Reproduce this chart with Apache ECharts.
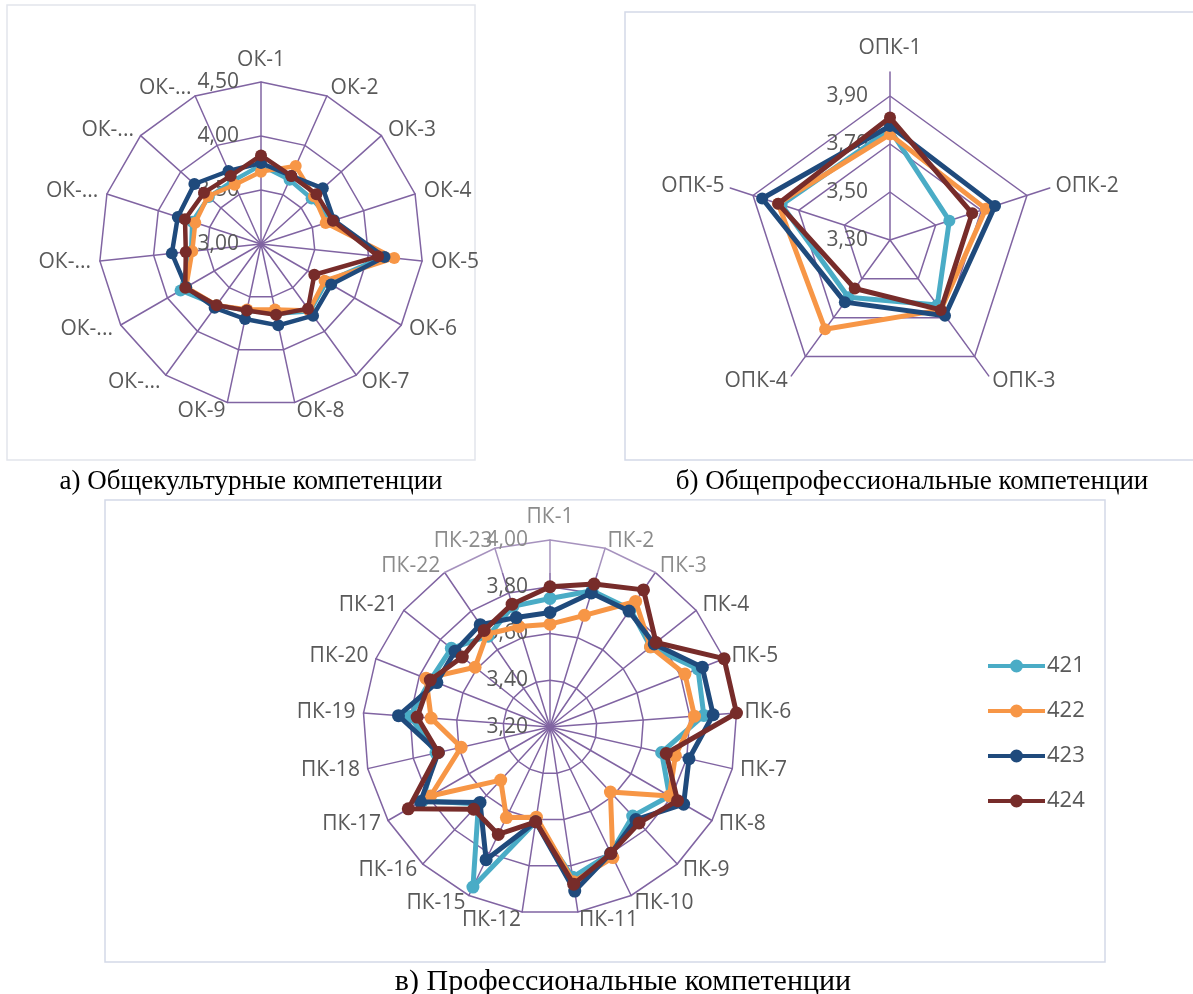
<!DOCTYPE html>
<html>
<head>
<meta charset="utf-8">
<script src="https://cdn.jsdelivr.net/npm/echarts@6/dist/echarts.min.js"></script>
<style>
  html, body { margin: 0; padding: 0; background: #ffffff; }
  #chart { width: 1193px; height: 994px; }
</style>
</head>
<body>
<div id="chart"></div>
<script>
// ---- а) Общекультурные компетенции ----
const okCategories = ['ОК-1', 'ОК-2', 'ОК-3', 'ОК-4', 'ОК-5', 'ОК-6', 'ОК-7', 'ОК-8',
  'ОК-9', 'ОК-10', 'ОК-11', 'ОК-12', 'ОК-13', 'ОК-14', 'ОК-15'];
const ok421 = [3.73, 3.65, 3.63, 3.69, 4.14, 3.70, 3.77, 3.66, 3.63, 3.70, 3.86, 3.65, 3.67, 3.65, 3.64];
const ok422 = [3.67, 3.79, 3.66, 3.63, 4.24, 3.68, 3.76, 3.62, 3.62, 3.70, 3.80, 3.64, 3.64, 3.66, 3.60];
const ok423 = [3.75, 3.69, 3.77, 3.71, 4.15, 3.75, 3.82, 3.77, 3.71, 3.73, 3.80, 3.83, 3.81, 3.83, 3.74];
const ok424 = [3.82, 3.69, 3.69, 3.70, 4.09, 3.57, 3.74, 3.67, 3.63, 3.70, 3.81, 3.70, 3.74, 3.71, 3.69];
const okTicks = [3.00, 3.50, 4.00, 4.50];

// ---- б) Общепрофессиональные компетенции ----
const opkCategories = ['ОПК-1', 'ОПК-2', 'ОПК-3', 'ОПК-4', 'ОПК-5'];
const opk421 = [3.76, 3.56, 3.635, 3.595, 3.775];
const opk422 = [3.74, 3.72, 3.66, 3.76, 3.79];
const opk423 = [3.775, 3.76, 3.69, 3.62, 3.86];
const opk424 = [3.81, 3.66, 3.66, 3.55, 3.79];
const opkTicks = [3.30, 3.50, 3.70, 3.90];
const opkAxisMax = 4.00;

// ---- в) Профессиональные компетенции ----
const pkCategories = ['ПК-1', 'ПК-2', 'ПК-3', 'ПК-4', 'ПК-5', 'ПК-6', 'ПК-7', 'ПК-8', 'ПК-9',
  'ПК-10', 'ПК-11', 'ПК-12', 'ПК-15', 'ПК-16', 'ПК-17', 'ПК-18', 'ПК-19', 'ПК-20',
  'ПК-21', 'ПК-22', 'ПК-23'];
const pk421 = [3.75, 3.81, 3.81, 3.75, 3.88, 3.86, 3.69, 3.79, 3.72, 3.80, 3.85, 3.61, 3.96, 3.65, 3.83, 3.70, 3.80, 3.75, 3.74, 3.67, 3.74];
const pk422 = [3.64, 3.70, 3.85, 3.75, 3.82, 3.82, 3.75, 3.79, 3.58, 3.82, 3.87, 3.59, 3.63, 3.51, 3.79, 3.59, 3.71, 3.77, 3.61, 3.68, 3.65];
const pk423 = [3.69, 3.80, 3.80, 3.77, 3.90, 3.90, 3.81, 3.86, 3.74, 3.80, 3.91, 3.61, 3.83, 3.64, 3.84, 3.69, 3.85, 3.72, 3.72, 3.73, 3.69];
const pk424 = [3.80, 3.84, 3.91, 3.78, 4.00, 4.00, 3.71, 3.83, 3.76, 3.80, 3.88, 3.61, 3.71, 3.68, 3.90, 3.69, 3.77, 3.75, 3.68, 3.70, 3.75];
const pkTicks = [3.20, 3.40, 3.60, 3.80, 4.00];

const groupNames = ['421', '422', '423', '424'];
const groupColors = ['#4aacc6', '#f79646', '#1f4a7c', '#772c2a'];

const gridColor = '#8064a2';
const textColor = '#595959';
const textFont = 'Open Sans';

// ECharts lays radar axes out counter-clockwise; keep the first axis on top
// and reverse the rest so the categories run clockwise.
const clockwise = arr => [arr[0]].concat(arr.slice(1).reverse());

const fmtTick = v => v.toFixed(2).replace('.', ',');

function buildIndicators(cats, min, max, topGap, ticks) {
  return clockwise(cats).map((name, i) => {
    const ind = { name: name, min: min, max: max };
    if (i === 0) {
      ind.nameGap = topGap;
      ind.axisLabel = {
        show: true,
        formatter: v => ticks.some(t => Math.abs(t - v) < 1e-6) ? fmtTick(v) : ''
      };
    }
    return ind;
  });
}

function radarBase(center, radius, splitNumber, indicator, nameGap, splitColors, nameFormatter) {
  return {
    center: center,
    radius: radius,
    startAngle: 90,
    shape: 'polygon',
    splitNumber: splitNumber,
    indicator: indicator,
    nameGap: nameGap,
    axisName: {
      color: textColor, fontSize: 21, fontFamily: textFont,
      formatter: nameFormatter
    },
    axisLine: { show: true, lineStyle: { color: gridColor, width: 1.5 } },
    splitLine: { show: true, lineStyle: { color: splitColors, width: 1.5 } },
    splitArea: { show: false },
    axisTick: { show: false },
    axisLabel: { show: false, color: textColor, fontSize: 21, fontFamily: textFont, margin: 22 }
  };
}

function radarSeries(radarIndex, valueLists, lineWidth, symbolSize) {
  return groupNames.map((name, k) => ({
    type: 'radar',
    radarIndex: radarIndex,
    name: name,
    symbol: 'circle',
    symbolSize: symbolSize,
    lineStyle: { color: groupColors[k], width: lineWidth },
    itemStyle: { color: groupColors[k] },
    emphasis: { disabled: true },
    z: 2 + k,
    data: [{ name: name, value: clockwise(valueLists[k]) }]
  }));
}

const okNameFormatter = name => name.length > 4 ? 'ОК-...' : name;

const captionStyle = (text, size) => ({
  text: text, fill: '#000000', fontSize: size, fontFamily: 'Liberation Serif',
  align: 'center', verticalAlign: 'middle', textAlign: 'center', textVerticalAlign: 'middle'
});

const option = {
  backgroundColor: '#ffffff',
  animation: false,
  radar: [
    radarBase([261, 244], 162, 3,
      buildIndicators(okCategories, okTicks[0], okTicks[okTicks.length - 1], 11, okTicks),
      9, gridColor, okNameFormatter),
    radarBase([890, 240], 168, 7,
      buildIndicators(opkCategories, opkTicks[0], opkAxisMax, 13, opkTicks),
      6, [gridColor, 'rgba(0,0,0,0)'], null),
    radarBase([550, 727], 187, 4,
      buildIndicators(pkCategories, pkTicks[0], pkTicks[pkTicks.length - 1], 12, pkTicks),
      8, gridColor, null)
  ],
  legend: {
    orient: 'vertical',
    left: 983,
    top: 650,
    itemWidth: 57,
    itemHeight: 13,
    itemGap: 23,
    icon: 'path://M0,5L22.5,5L22.5,9L0,9Z M34.5,5L57,5L57,9L34.5,9Z M22,7A6.5,6.5 0 1 1 35,7A6.5,6.5 0 1 1 22,7Z',
    textStyle: { color: textColor, fontSize: 22, fontFamily: textFont, padding: [0, 0, 0, -3] },
    data: groupNames
  },
  series: []
    .concat(radarSeries(0, [ok421, ok422, ok423, ok424], 4.5, 12))
    .concat(radarSeries(1, [opk421, opk422, opk423, opk424], 5, 12))
    .concat(radarSeries(2, [pk421, pk422, pk423, pk424], 5, 13)),
  graphic: [
    // chart area frames
    { type: 'rect', silent: true, z: -10,
      shape: { x: 7, y: 5, width: 468, height: 455 },
      style: { fill: 'none', stroke: '#e2e5ec', lineWidth: 1.5 } },
    { type: 'rect', silent: true, z: -10,
      shape: { x: 625, y: 12, width: 580, height: 448 },
      style: { fill: 'none', stroke: '#d3d9e8', lineWidth: 1.5 } },
    { type: 'rect', silent: true, z: -10,
      shape: { x: 105, y: 500, width: 1000, height: 462 },
      style: { fill: 'none', stroke: '#d3d9e8', lineWidth: 1.5 } },
    // faded strip over the top of the third chart's grid
    { type: 'rect', silent: true, z: 100,
      shape: { x: 380, y: 500, width: 340, height: 73 },
      style: { fill: 'rgba(255,255,255,0.3)' } },
    // captions
    { type: 'text', silent: true, z: 110, x: 251, y: 482,
      style: captionStyle('а) Общекультурные компетенции', 27) },
    { type: 'text', silent: true, z: 110, x: 912, y: 482,
      style: captionStyle('б) Общепрофессиональные компетенции', 27) },
    { type: 'text', silent: true, z: 110, x: 623, y: 982,
      style: captionStyle('в) Профессиональные компетенции', 30) }
  ]
};

const chart = echarts.init(document.getElementById('chart'), null, { renderer: 'canvas' });
chart.setOption(option);
</script>
</body>
</html>
